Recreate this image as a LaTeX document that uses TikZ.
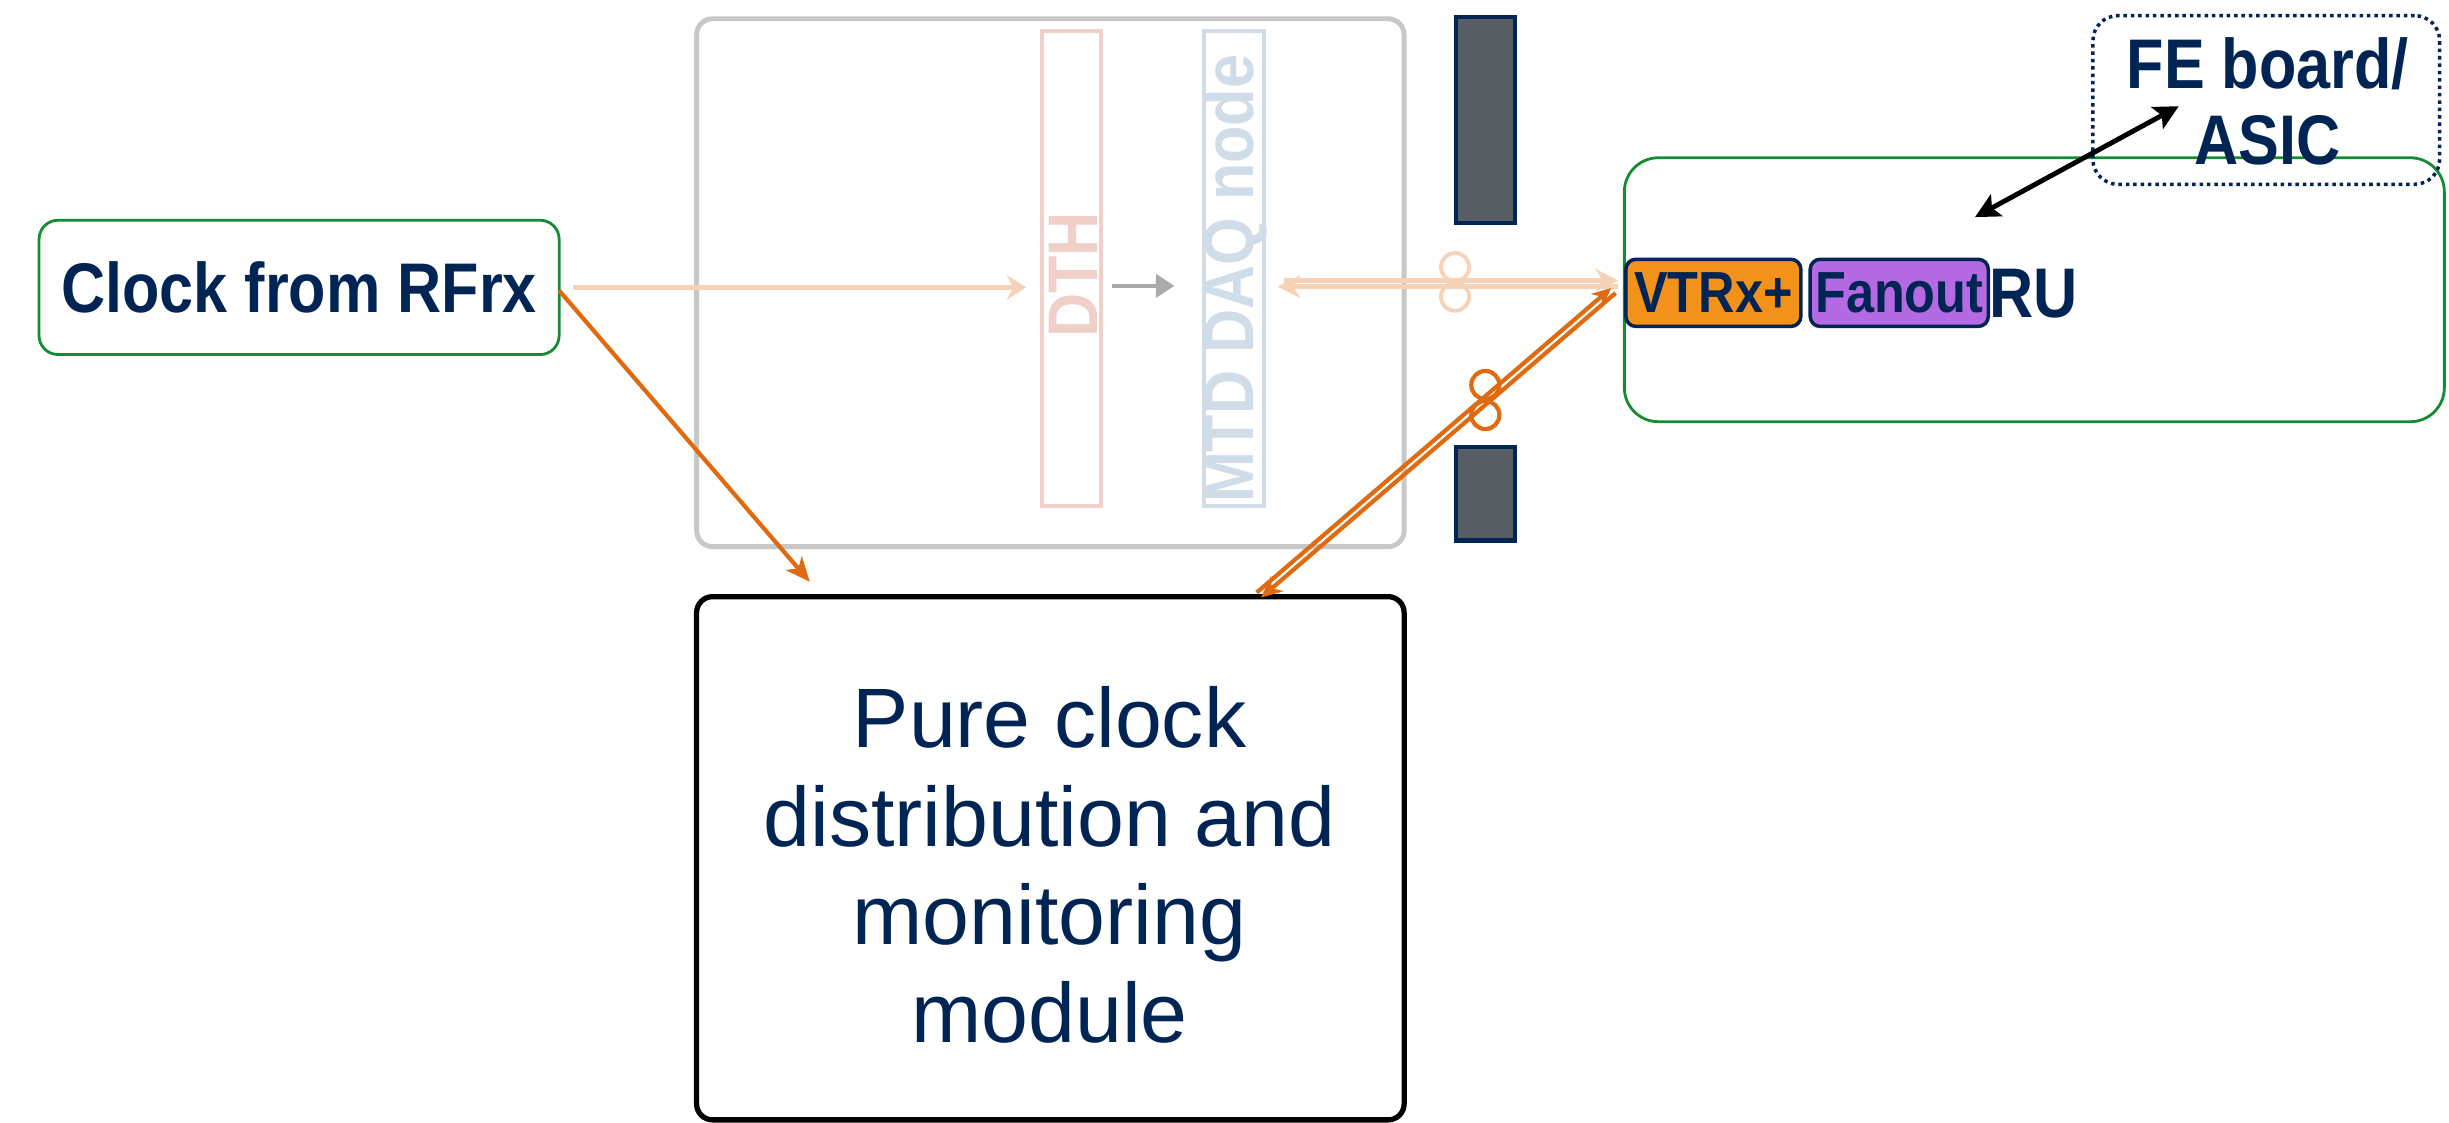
\documentclass[tikz,border=0pt]{standalone}
\usepackage{fontspec}
\setmainfont{Liberation Sans}
\newfontfamily\cb[FakeStretch=0.87]{Liberation Sans Bold}
\usetikzlibrary{arrows.meta}
\newlength\rp \setlength\rp{0.015619cm}
\definecolor{navy}{RGB}{0,36,84}
\definecolor{grn}{RGB}{20,140,50}
\definecolor{lorange}{RGB}{246,210,182}
\definecolor{dorange}{RGB}{224,106,16}
\definecolor{dthpink}{RGB}{242,208,202}
\definecolor{mtdblue}{RGB}{208,220,232}
\definecolor{gbox}{RGB}{200,200,200}
\definecolor{garrow}{RGB}{170,170,170}
\definecolor{dkfill}{RGB}{88,92,99}
\definecolor{vtrxor}{RGB}{243,146,26}
\definecolor{fanpur}{RGB}{180,106,226}
\begin{document}
\begin{tikzpicture}[x=0.015619cm,y=-0.015619cm,
  every node/.style={inner sep=0pt,outer sep=0pt},
  boldtxt/.style={text=navy,font=\cb\fontsize{20}{21.5}\selectfont,align=center},
  greenbox/.style={draw=grn,line width=0.8pt,rounded corners=0.19cm},
  vbox/.style={line width=1.1pt},
  darkbar/.style={draw=navy,fill=dkfill,line width=1.2pt},
  chip/.style={draw=navy,line width=1pt,rounded corners=0.1cm,text=navy,font=\cb\fontsize{16.5}{18}\selectfont},
  lightline/.style={draw=lorange,line width=1.4pt},
  darkline/.style={draw=dorange,line width=1.2pt},
]
\useasboundingbox (0,0) rectangle (1568,719);

% boxes
\node[draw=gbox,line width=1.4pt,rounded corners=0.16cm,minimum width=453\rp,minimum height=338\rp] (daq) at (672.5,181) {};
\node[vbox,draw=dthpink,minimum width=38\rp,minimum height=304\rp] (dth) at (686,172) {};
\node[vbox,draw=mtdblue,minimum width=38\rp,minimum height=304\rp] (mtd) at (790,172) {};
\node[boldtxt,text=dthpink,rotate=90] (dthl) at (687,176) {DTH};
\node[boldtxt,text=mtdblue,rotate=90] (mtdl) at (791,178.5) {MTD DAQ node};

\node[darkbar,minimum width=38\rp,minimum height=132\rp] (bar1) at (951,77) {};
\node[darkbar,minimum width=38\rp,minimum height=60\rp] (bar2) at (951,316) {};

\node[greenbox,minimum width=333\rp,minimum height=86\rp,boldtxt] (clock) at (191.5,184) {Clock from RFrx};

\node[draw=black,line width=1.5pt,rounded corners=0.16cm,minimum width=453\rp,minimum height=335\rp] (pure) at (672.5,549.5) {};
\node[text=navy,font=\fontsize{24}{28}\selectfont,align=center] (purel) at (672,554) {Pure clock\\distribution and\\monitoring\\module};

\node[greenbox,rounded corners=0.34cm,minimum width=525\rp,minimum height=169\rp] (ru) at (1302.5,185.5) {};
\node[draw=navy,line width=1pt,dash pattern=on 1pt off 1.1pt,rounded corners=0.25cm,minimum width=222\rp,minimum height=108\rp] (fe) at (1451,64) {};
\node[boldtxt] (fel) at (1452,65) {FE board/\\ASIC};
\node[chip,fill=vtrxor,minimum width=112\rp,minimum height=43\rp] (vtrx) at (1097,187.5) {VTRx+};
\node[chip,fill=fanpur,minimum width=114\rp,minimum height=43\rp] (fanout) at (1216,187.5) {Fanout};
\node[boldtxt] (rul) at (1302,188) {RU};

% connector end points
\coordinate (clkout) at (367,184);
\coordinate (dthin) at (657,184);
\coordinate (g1) at (712,183);
\coordinate (g2) at (752,183);
\coordinate (la1) at (822,179.5);
\coordinate (lb1) at (1036,179.5);
\coordinate (la2) at (818,183.5);
\coordinate (lb2) at (1036,183.5);
\coordinate (clkdiag) at (358,186);
\coordinate (purein) at (518.5,372.5);
\coordinate (da1) at (804.6,379.4);
\coordinate (db1) at (1031.6,184.4);
\coordinate (da2) at (807.4,382.6);
\coordinate (db2) at (1034.4,187.6);
\coordinate (bk1) at (1264.5,139);
\coordinate (bk2) at (1395,68);

% connectors
\draw[lightline,-{Stealth[length=5.5pt,width=7pt]}] (clkout) -- (dthin);
\draw[draw=garrow,line width=1.3pt,-{Triangle[length=5.3pt,width=6.5pt]}] (g1) -- (g2);
\draw[lightline,-{Stealth[length=6.5pt,width=6.5pt]}] (la1) -- (lb1);
\draw[lightline,-{Stealth[length=6.5pt,width=6.5pt]}] (lb2) -- (la2);
\draw[lightline,line width=1.1pt] (931.6,171) circle[radius=9];
\draw[lightline,line width=1.1pt] (931.6,190) circle[radius=9];

\draw[draw=dorange,line width=1.2pt,-{Stealth[length=7pt,width=6pt,inset=2pt]}] (clkdiag) -- (purein);
\draw[darkline,-{Stealth[length=5.5pt,width=5pt]}] (da1) -- (db1);
\draw[darkline,-{Stealth[length=6pt,width=5.5pt]}] (db2) -- (da2);
\draw[darkline] (951,246.5) circle[radius=9];
\draw[darkline] (951,265.7) circle[radius=9];

\draw[black,line width=1.4pt,{Stealth[length=7pt,width=7pt,inset=1.5pt]}-{Stealth[length=7pt,width=7pt,inset=1.5pt]}] (bk1) -- (bk2);
\end{tikzpicture}
\end{document}
